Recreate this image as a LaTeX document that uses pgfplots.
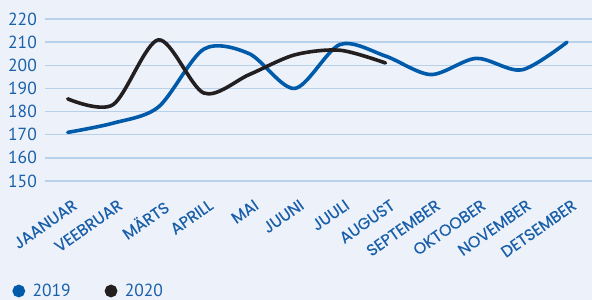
\documentclass[border=0pt]{standalone}
\usepackage{fontspec}
\usepackage{pgfplots}
\pgfplotsset{compat=1.18}
\setmainfont{PT Sans}
\newfontfamily\numfont{PT Sans}
\newfontfamily\labfont{Poppins}[FakeBold=0.35]
\definecolor{bgc}{RGB}{237,242,250}
\definecolor{gridc}{RGB}{184,208,234}
\definecolor{tblue}{RGB}{25,95,170}
\definecolor{lblue}{RGB}{0,90,170}
\definecolor{lblack}{RGB}{35,31,32}
\begin{document}
\begin{tikzpicture}
\fill[bgc] (-45bp,-119bp) rectangle (547bp,181bp);
\begin{axis}[
  scale only axis,
  width=547bp, height=162bp,
  xmin=-0.5, xmax=11.55,
  ymin=150, ymax=220,
  clip=false,
  axis line style={draw=none},
  tick style={draw=none},
  major tick length=0pt,
  ytick={150,160,...,220},
  xtick={0,...,11},
  xticklabels={JAANUAR,VEEBRUAR,MÄRTS,APRILL,MAI,JUUNI,JUULI,AUGUST,SEPTEMBER,OKTOOBER,NOVEMBER,DETSEMBER},
  ymajorgrids,
  grid style={gridc, line width=1.5bp},
  /pgf/number format/assume math mode=true,
  yticklabel style={font=\numfont\fontsize{17.5bp}{18bp}\selectfont, text=tblue, inner sep=0pt, anchor=east, xshift=-8bp},
  xticklabel style={font=\labfont\fontsize{16bp}{16bp}\selectfont, text=tblue, inner sep=0pt, anchor=north east, xshift=4bp, yshift=-17.5bp, rotate=35},
  legend columns=2,
  legend style={at={(axis description cs:0,0)}, anchor=west, xshift=-32.5bp, yshift=-110bp,
    draw=none, fill=none, inner sep=0pt, outer sep=0pt,
    font=\numfont\fontsize{17.5bp}{18bp}\selectfont, text=tblue,
    nodes={inner sep=0pt},
    /tikz/every odd column/.append style={column sep=7.5bp},
    /tikz/every even column/.append style={column sep=34bp}},
]
\addplot[lblue, line width=3.6bp, smooth, line cap=round,
  legend image code/.code={\fill[lblue] (4.5bp,0bp) circle (4.5bp);}]
  coordinates {(0,171) (1,175) (2,182) (3,207) (4,205) (5,190) (6,209) (7,204) (8,196) (9,203) (10,198) (11,210)};
\addlegendentry{2019}
\addplot[lblack, line width=3.6bp, smooth, line cap=round,
  legend image code/.code={\fill[lblack] (4.5bp,0bp) circle (4.5bp);}]
  coordinates {(0,185.5) (1,183) (2,211) (3,188) (4,196) (5,204.5) (6,206.5) (7,201)};
\addlegendentry{2020}
\end{axis}
\pgfresetboundingbox
\useasboundingbox (-45bp,-119bp) rectangle (547bp,181bp);
\end{tikzpicture}
\end{document}
